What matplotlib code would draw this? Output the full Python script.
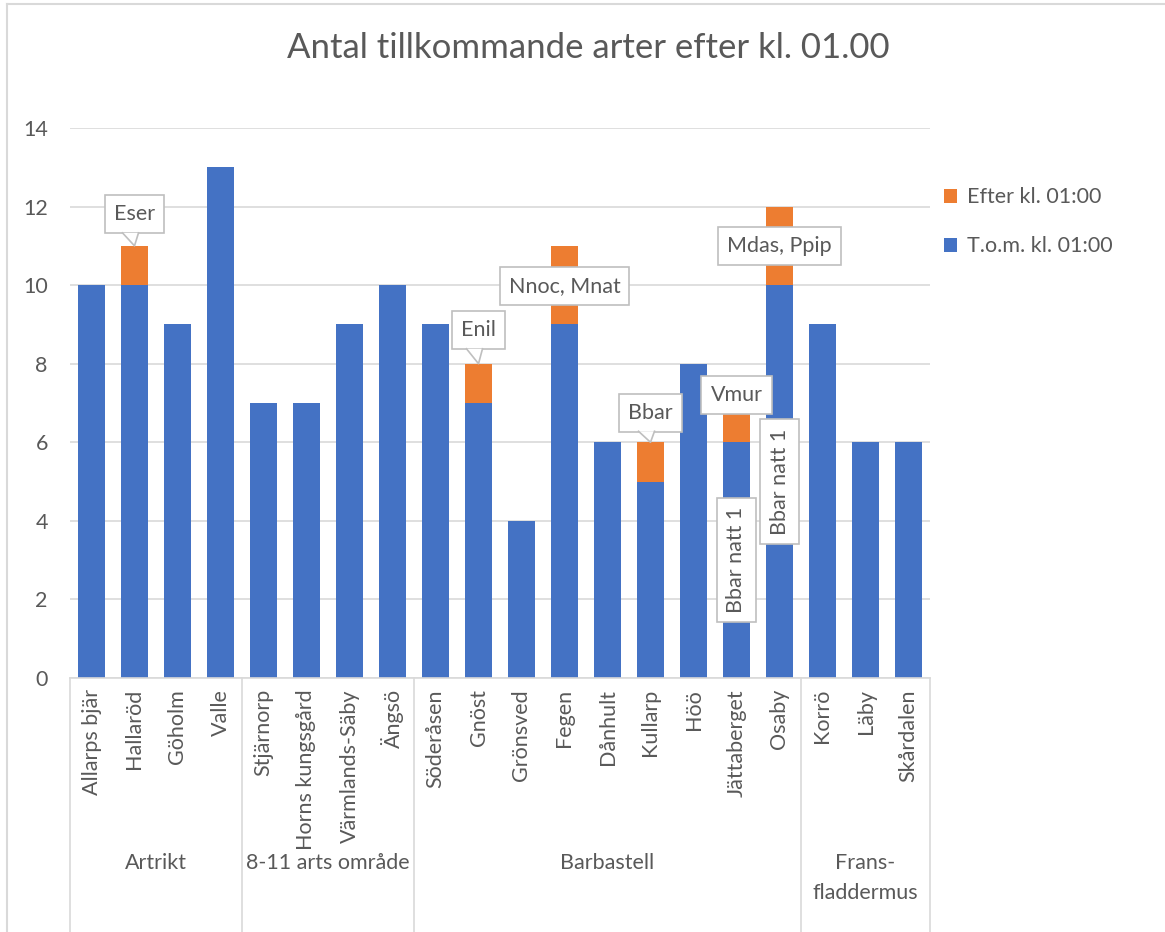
import matplotlib.pyplot as plt
import matplotlib.transforms as mtransforms
from matplotlib.patches import Polygon
from matplotlib.lines import Line2D

plt.rcParams['font.family'] = ['Lato', 'DejaVu Sans']

# data
sites = ['Allarps bjär', 'Hallaröd', 'Göholm', 'Valle',
         'Stjärnorp', 'Horns kungsgård', 'Värmlands-Säby', 'Ängsö',
         'Söderåsen', 'Gnöst', 'Grönsved', 'Fegen', 'Dånhult', 'Kullarp',
         'Höö', 'Jättaberget', 'Osaby',
         'Korrö', 'Läby', 'Skårdalen']
fore = [10, 10, 9, 13, 7, 7, 9, 10, 9, 7, 4, 9, 6, 5, 8, 6, 10, 9, 6, 6]
efter = [0, 1, 0, 0, 0, 0, 0, 0, 0, 1, 0, 2, 0, 1, 0, 1, 2, 0, 0, 0]
groups = ['Artrikt', '8-11 arts område', 'Barbastell', 'Frans-\nfladdermus']
group_sizes = [4, 4, 9, 3]

# etiketter: (text, kategori-index, y, pekare mot y eller None, roterad)
labels = [
    ('Eser', 1, 11.8, 11, False),
    ('Enil', 9, 8.85, 8, False),
    ('Bbar', 13, 6.75, 6, False),
    ('Nnoc, Mnat', 11, 9.98, None, False),
    ('Vmur', 15, 7.2, None, False),
    ('Mdas, Ppip', 16, 11.0, None, False),
    ('Bbar natt 1', 15, 3.0, None, True),
    ('Bbar natt 1', 16, 5.0, None, True),
]

blue = '#4472C4'
orange = '#ED7D31'
txt = '#595959'
grid = '#D9D9D9'
fs = 15.5

fig = plt.figure(figsize=(11.65, 9.32), dpi=100)
ax = fig.add_axes([70 / 1165, 1 - 678 / 932, 860 / 1165, 550 / 932])

x = list(range(len(sites)))
ax.bar(x, fore, width=0.65, color=blue, label='T.o.m. kl. 01:00', zorder=2)
ax.bar(x, efter, width=0.65, bottom=fore, color=orange, label='Efter kl. 01:00', zorder=2)

ax.set_xlim(-0.5, len(sites) - 0.5)
ax.set_ylim(0, 14)
ax.set_yticks(range(0, 15, 2))
ax.yaxis.grid(True, color=grid, linewidth=1.2)
ax.set_axisbelow(True)
for s in ['top', 'right', 'left']:
    ax.spines[s].set_visible(False)
ax.spines['bottom'].set_color(grid)
ax.spines['bottom'].set_linewidth(1.2)
ax.tick_params(axis='y', length=0, labelsize=fs, labelcolor=txt, pad=16)
ax.set_xticks(x)
ax.set_xticklabels(sites, rotation=90, fontsize=fs, color=txt, va='top')
ax.tick_params(axis='x', length=0, pad=8)

# gruppnamn och skiljelinjer
trans = mtransforms.blended_transform_factory(ax.transData, ax.transAxes)
bottom_y = (678 - 932) / 550
start = -0.5
seps = [start]
for g, n in zip(groups, group_sizes):
    mid = start + n / 2
    ax.text(mid, -0.318, g, transform=trans, ha='center', va='top',
            fontsize=fs, color=txt, linespacing=1.65)
    start += n
    seps.append(start)
for sx in seps:
    ax.add_line(Line2D([sx, sx], [0, bottom_y], transform=trans, color=grid,
                       linewidth=1.2, clip_on=False))

# dataetiketter
for text, i, y, tip, rot in labels:
    t = ax.text(i, y, text, ha='center', va='center', fontsize=fs, color=txt,
                rotation=90 if rot else 0, zorder=5,
                bbox=dict(boxstyle='square,pad=0.42', fc='white', ec='#BFBFBF', lw=1.2))
    if tip is not None:
        fig.canvas.draw()
        bb = t.get_bbox_patch().get_window_extent()
        inv = ax.transData.inverted()
        px = ax.transData.transform((i, tip))
        pts = [(px[0] - 12, bb.y0 + 0.6), (px[0], px[1]), (px[0] + 4, bb.y0 + 0.6)]
        pts = [inv.transform(p) for p in pts]
        # täck boxens kant under pekaren
        ax.add_patch(Polygon(pts, closed=True, fc='white', ec='none', zorder=6.5))
        ax.add_line(Line2D([p[0] for p in pts], [p[1] for p in pts],
                           color='#BFBFBF', lw=1.2, zorder=7))

fig.text(588 / 1165, 1 - 48 / 932, 'Antal tillkommande arter efter kl. 01.00',
         fontsize=25, color=txt, ha='center', va='center')

ax.legend(loc='upper left', bbox_to_anchor=(925 / 1165, 1 - 168 / 932),
          bbox_transform=fig.transFigure, frameon=False, fontsize=fs,
          labelcolor=txt, handlelength=0.6, handleheight=0.6, handletextpad=0.45,
          labelspacing=1.35, reverse=True)

# diagramram
fig.add_artist(Line2D([7 / 1165, 7 / 1165], [0, 1 - 4 / 932], color=grid, lw=1.5))
fig.add_artist(Line2D([7 / 1165, 1], [1 - 4 / 932, 1 - 4 / 932], color=grid, lw=1.5))

fig.savefig('out.png', dpi=100)
